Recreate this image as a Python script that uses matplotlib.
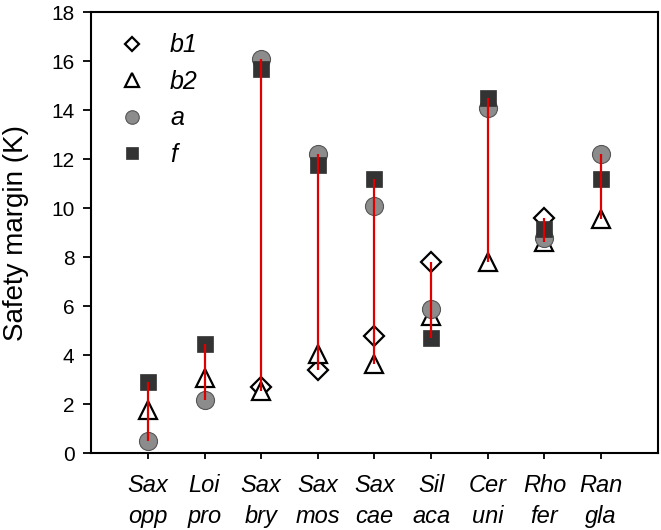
import numpy as np
import matplotlib.pyplot as plt

plt.rcParams['font.family'] = ['Liberation Sans', 'DejaVu Sans']

species = ["Sax\nopp", "Loi\npro", "Sax\nbry", "Sax\nmos", "Sax\ncae",
           "Sil\naca", "Cer\nuni", "Rho\nfer", "Ran\ngla"]
b1 = [np.nan, np.nan, 2.7, 3.4, 4.8, 7.8, np.nan, 9.6, np.nan]
b2 = [1.75, 3.05, 2.55, 4.05, 3.65, 5.6, 7.8, 8.6, 9.55]
a = [0.5, 2.15, 16.1, 12.2, 10.1, 5.9, 14.1, 8.8, 12.2]
f = [2.9, 4.45, 15.7, 11.75, 11.2, 4.7, 14.5, 9.15, 11.2]

x = np.arange(1, len(species) + 1)
allv = np.array([b1, b2, a, f], dtype=float)
lo = np.nanmin(allv, axis=0)
hi = np.nanmax(allv, axis=0)

fig = plt.figure(figsize=(6.61, 5.30), dpi=100)
ax = fig.add_axes([0.138, 0.145, 0.857, 0.832])

ax.plot(x, b1, 'D', ms=10, mfc='white', mec='black', mew=1.6, ls='none', label='b1', zorder=2)
ax.plot(x, b2, '^', ms=13, mfc='white', mec='black', mew=1.6, ls='none', label='b2', zorder=2)
ax.plot(x, a, 'o', ms=13, mfc='#8c8c8c', mec='#555555', mew=0.8, ls='none', label='a', zorder=3)
ax.plot(x, f, 's', ms=12, mfc='#333333', mec='#333333', mew=0.5, ls='none', label='f', zorder=4)
ax.vlines(x, lo, hi, colors='#e00000', lw=1.6, zorder=5)

ax.set_xlim(0, 10)
ax.set_ylim(0, 18)
ax.set_yticks(np.arange(0, 19, 2))
ax.set_xticks(x)
ax.set_xticklabels(species, fontsize=17, style='italic', linespacing=1.45)
ax.tick_params(axis='y', labelsize=15, direction='out', length=6, width=1.3, pad=6)
ax.tick_params(axis='x', direction='out', length=4, width=1.3, pad=11)
for s in ax.spines.values():
    s.set_linewidth(1.5)
ax.set_ylabel('Safety margin (K)', fontsize=20, labelpad=16)

leg = ax.legend(loc='upper left', frameon=False, prop={'size': 18, 'style': 'italic'},
                markerscale=0.75, labelspacing=0.5, handletextpad=0.7,
                borderaxespad=0.45, handlelength=1.6)

fig.savefig('out.png', dpi=100)
